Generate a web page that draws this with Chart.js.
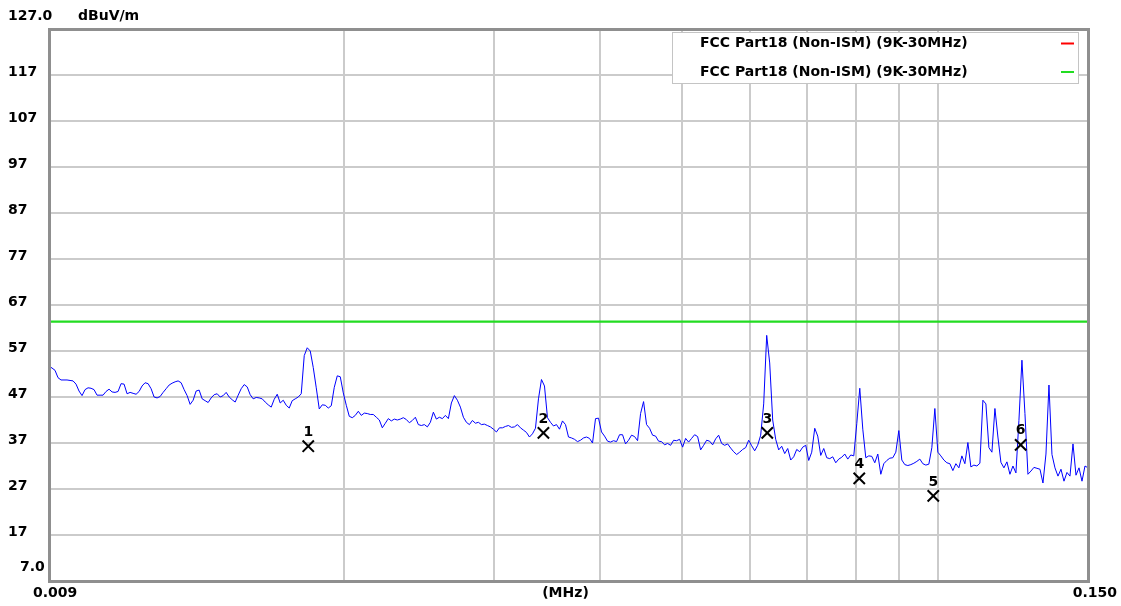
<!DOCTYPE html>
<html>
<head>
<meta charset="utf-8">
<title>Radiated emission 9 kHz - 150 kHz</title>
<script src="https://cdn.jsdelivr.net/npm/chart.js@4.4.1/dist/chart.umd.min.js"></script>
<style>
  html, body { margin: 0; padding: 0; background: #ffffff; }
  canvas { display: block; }
</style>
</head>
<body>
<canvas id="c" width="1121" height="606"></canvas>
<script>
// Receiver sweep: log-spaced points between these frequencies (MHz)
const sweepStartMHz = 0.009;
const sweepStopMHz = 0.150;

// Measured level at each sweep point (dBuV/m)
const traceLevels = [
  53.7, 53.3, 52.8, 51.2, 50.7, 50.7, 50.7, 50.6, 50.5, 49.8,
  48.3, 47.3, 48.6, 49.0, 48.9, 48.6, 47.4, 47.4, 47.4, 48.2,
  48.7, 48.1, 48.0, 48.2, 49.9, 49.8, 47.7, 48.0, 47.8, 47.6,
  48.2, 49.4, 50.1, 49.9, 48.8, 47.0, 46.8, 47.1, 48.0, 48.8,
  49.6, 50.0, 50.3, 50.5, 50.1, 48.6, 47.3, 45.4, 46.3, 48.3,
  48.5, 46.6, 46.2, 45.8, 46.8, 47.5, 47.7, 47.0, 47.3, 48.0,
  47.0, 46.4, 45.9, 47.4, 48.8, 49.7, 49.2, 47.5, 46.6, 46.9,
  46.8, 46.6, 45.9, 45.3, 44.8, 46.5, 47.6, 45.7, 46.3, 45.2,
  44.6, 46.2, 46.6, 47.0, 47.7, 56.0, 57.7, 57.0, 53.4, 49.0,
  44.4, 45.3, 45.2, 44.6, 45.1, 49.1, 51.6, 51.4, 47.9, 45.2,
  42.8, 42.5, 43.0, 43.9, 43.0, 43.5, 43.4, 43.2, 43.2, 42.6,
  42.0, 40.3, 41.3, 42.3, 41.8, 42.2, 42.0, 42.2, 42.5, 42.1,
  41.4, 41.9, 42.6, 41.0, 40.8, 41.0, 40.5, 41.5, 43.7, 42.2,
  42.6, 42.3, 43.0, 42.3, 45.7, 47.3, 46.3, 44.8, 42.6, 41.5,
  41.0, 41.9, 41.3, 41.5, 41.0, 41.1, 40.8, 40.5, 40.0, 39.4,
  40.3, 40.3, 40.6, 40.8, 40.4, 40.5, 41.0, 40.3, 39.8, 39.3,
  38.3, 39.0, 40.2, 46.6, 50.8, 49.4, 42.5, 41.5, 40.7, 41.0,
  40.0, 41.8, 41.0, 38.3, 38.1, 37.8, 37.3, 37.6, 38.1, 38.3,
  38.0, 37.0, 42.3, 42.4, 39.4, 38.5, 37.4, 37.2, 37.5, 37.3,
  38.8, 38.8, 36.8, 37.6, 38.7, 38.4, 37.5, 43.4, 46.0, 41.0,
  40.2, 38.7, 38.5, 37.4, 37.3, 36.6, 36.9, 36.5, 37.6, 37.5,
  37.8, 36.1, 38.0, 37.2, 38.0, 38.8, 38.4, 35.5, 36.5, 37.6,
  37.4, 36.6, 37.9, 38.7, 36.9, 36.5, 36.8, 35.9, 35.1, 34.5,
  35.0, 35.6, 36.0, 37.6, 36.4, 35.3, 36.5, 38.7, 45.5, 60.4,
  54.4, 42.0, 37.8, 35.5, 36.3, 34.7, 35.8, 33.3, 34.0, 35.6,
  35.1, 36.1, 36.5, 33.2, 35.0, 40.2, 38.5, 34.3, 35.8, 33.8,
  33.6, 34.0, 32.7, 33.5, 33.9, 34.6, 33.5, 34.4, 34.2, 41.2,
  48.9, 40.0, 33.8, 34.2, 34.1, 32.7, 34.6, 30.2, 32.5, 33.2,
  33.7, 33.8, 35.0, 39.7, 33.3, 32.3, 32.1, 32.3, 32.6, 33.0,
  33.5, 32.5, 32.2, 32.4, 36.0, 44.5, 35.0, 34.2, 33.3, 32.7,
  32.5, 31.0, 32.5, 31.6, 34.2, 32.5, 37.1, 31.8, 32.2, 32.0,
  32.6, 46.3, 45.5, 36.0, 35.0, 44.5, 38.3, 32.8, 31.6, 32.9,
  30.2, 32.0, 30.5, 41.9, 55.0, 43.4, 30.2, 30.9, 31.7, 31.5,
  31.3, 28.3, 34.6, 49.6, 34.5, 31.6, 29.8, 31.3, 28.7, 30.6,
  29.8, 36.8, 30.0, 31.6, 28.7, 32.0, 31.6
];

// Limit lines
const limitLabels = ['FCC Part18 (Non-ISM) (9K-30MHz)', 'FCC Part18 (Non-ISM) (9K-30MHz)'];
const limitColors = ['#ff0000', '#22dd22'];
const limitLevel = 63.4;

// Marked peaks
const markerNames = ['1', '2', '3', '4', '5', '6'];
const markerFreqs = [0.01816, 0.03433, 0.06294, 0.08074, 0.09866, 0.1250];
const markerLevels = [36.3, 39.2, 39.2, 29.3, 25.5, 36.6];

// Axis range and labels
const yMin = 7, yMax = 127;
const yLabelValues = [127, 117, 107, 97, 87, 77, 67, 57, 47, 37, 27, 17, 7];
const yLabelTexts = ['127.0', '117', '107', '97', '87', '77', '67', '57', '47', '37', '27', '17', '7.0'];
const yUnit = 'dBuV/m';
const xGridTicks = [0.02, 0.03, 0.04, 0.05, 0.06, 0.07, 0.08, 0.09, 0.1];
const xStartLabel = '0.009', xStopLabel = '0.150', xUnit = '(MHz)';

const n = traceLevels.length;
const tracePoints = traceLevels.map((v, i) => ({
  x: sweepStartMHz * Math.pow(sweepStopMHz / sweepStartMHz, i / (n - 1)),
  y: v
}));
const markerPoints = markerFreqs.map((f, i) => ({ x: f, y: markerLevels[i] }));
const limitPoints = [{ x: sweepStartMHz, y: limitLevel }, { x: sweepStopMHz, y: limitLevel }];

const FONT = 'bold 14px "DejaVu Sans"';

const decorations = {
  id: 'decorations',
  beforeDraw(chart) {
    const ctx = chart.ctx;
    ctx.save();
    ctx.fillStyle = '#ffffff';
    ctx.fillRect(0, 0, chart.width, chart.height);
    ctx.restore();
  },
  afterDraw(chart) {
    const ctx = chart.ctx;
    const ca = chart.chartArea;
    const ys = chart.scales.y;
    ctx.save();

    // plot frame
    ctx.strokeStyle = '#8f8f8f';
    ctx.lineWidth = 3;
    ctx.strokeRect(ca.left + 0.5, ca.top + 0.5, ca.right - ca.left, ca.bottom - ca.top);

    // y labels
    ctx.fillStyle = '#000000';
    ctx.font = FONT;
    ctx.textBaseline = 'middle';
    ctx.textAlign = 'left';
    yLabelValues.forEach((v, i) => {
      const py = ys.getPixelForValue(v);
      if (v === yMax) {
        ctx.fillText(yLabelTexts[i], 8, py - 13);
      } else if (v === yMin) {
        ctx.fillText(yLabelTexts[i], 20, py - 14);
      } else {
        ctx.fillText(yLabelTexts[i], 8, py - 2.5);
      }
    });
    ctx.fillText(yUnit, 78, ys.getPixelForValue(yMax) - 13);

    // x labels
    const ly = ca.bottom + 12;
    ctx.textAlign = 'left';
    ctx.fillText(xStartLabel, 33, ly);
    ctx.textAlign = 'center';
    ctx.fillText(xUnit, (ca.left + ca.right) / 2 - 3, ly);
    ctx.textAlign = 'right';
    ctx.fillText(xStopLabel, 1117, ly);

    // marker numbers
    const mMeta = chart.getDatasetMeta(0);
    ctx.textAlign = 'center';
    mMeta.data.forEach((pt, i) => {
      ctx.fillText(markerNames[i], pt.x, pt.y - 14);
    });

    // legend box
    const bx = 672.5, by = 32.5, bw = 406, bh = 51;
    ctx.fillStyle = '#ffffff';
    ctx.fillRect(bx, by, bw, bh);
    ctx.strokeStyle = '#c4c4c4';
    ctx.lineWidth = 1;
    ctx.strokeRect(bx, by, bw, bh);
    ctx.textAlign = 'left';
    limitLabels.forEach((lab, i) => {
      const rowY = 43.5 + i * 28.5;
      ctx.fillStyle = '#000000';
      ctx.fillText(lab, 700, rowY);
      ctx.strokeStyle = limitColors[i];
      ctx.lineWidth = 2;
      ctx.beginPath();
      ctx.moveTo(1061, rowY);
      ctx.lineTo(1074, rowY);
      ctx.stroke();
    });
    ctx.restore();
  }
};

new Chart(document.getElementById('c'), {
  type: 'line',
  data: {
    datasets: [
      {
        type: 'scatter',
        label: 'Markers',
        data: markerPoints,
        showLine: false,
        pointStyle: 'crossRot',
        pointRadius: 8,
        pointBorderWidth: 2,
        borderColor: '#000000',
        backgroundColor: '#000000',
        order: 0
      },
      {
        label: 'Level',
        data: tracePoints,
        borderColor: '#0000ff',
        borderWidth: 1,
        pointRadius: 0,
        tension: 0,
        order: 1
      },
      {
        label: limitLabels[1],
        data: limitPoints,
        borderColor: limitColors[1],
        borderWidth: 2.2,
        pointRadius: 0,
        order: 2
      },
      {
        label: limitLabels[0],
        data: limitPoints,
        borderColor: limitColors[0],
        borderWidth: 0.8,
        pointRadius: 0,
        order: 3
      }
    ]
  },
  options: {
    responsive: false,
    animation: false,
    devicePixelRatio: 1,
    layout: { padding: { left: 49, right: 33, top: 29, bottom: 25 } },
    plugins: { legend: { display: false }, tooltip: { enabled: false } },
    scales: {
      x: {
        type: 'logarithmic',
        min: sweepStartMHz,
        max: sweepStopMHz,
        afterBuildTicks: (s) => { s.ticks = xGridTicks.map(v => ({ value: v })); },
        afterFit: (s) => { s.height = 0; },
        ticks: { display: false },
        grid: { color: '#cbcbcb', lineWidth: 2, drawTicks: false },
        border: { display: false }
      },
      y: {
        type: 'linear',
        min: yMin,
        max: yMax,
        afterFit: (s) => { s.width = 0; },
        ticks: { display: false, stepSize: 10 },
        grid: { color: '#cbcbcb', lineWidth: 2, drawTicks: false },
        border: { display: false }
      }
    }
  },
  plugins: [decorations]
});
</script>
</body>
</html>
